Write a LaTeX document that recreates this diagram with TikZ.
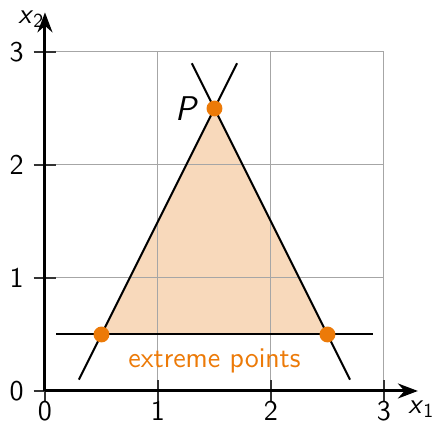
\documentclass[tikz,border=0pt]{standalone}
\usetikzlibrary{arrows.meta}
\definecolor{ptorange}{RGB}{236,122,8}
\definecolor{fillorange}{RGB}{248,217,187}
\begin{document}
\begin{tikzpicture}[x=2cm,y=2cm,font=\sffamily\Large,
  gridline/.style={gray!70,line width=0.5pt},
  axisline/.style={line width=1.5pt,-{Stealth[length=10pt,width=7.5pt]}},
  tickline/.style={line width=0.6pt,black!80},
  edgeline/.style={line width=1pt},
  vertex/.style={circle,fill=ptorange,inner sep=0pt,minimum size=8pt}]
\useasboundingbox (-0.398,-0.344) rectangle (3.425,3.46);
\fill[fillorange] (0.5,0.5) -- (2.5,0.5) -- (1.5,2.5) -- cycle;
\draw[gridline,step=2cm] (0,0) grid (3,3);
\foreach \i in {0,1,2,3}{
  \draw[tickline] (\i,-0.1) -- (\i,0.1);
  \draw[tickline] (-0.1,\i) -- (0.1,\i);
  \node (xl\i) at (\i,-0.18) {\i};
  \node (yl\i) at (-0.25,\i) {\i};
}
\coordinate (o) at (0,0);
\coordinate (xe) at (3.3,0);
\coordinate (ye) at (0,3.35);
\draw[axisline] (o) -- (xe);
\draw[axisline] (o) -- (ye);
\node (x1) at (3.33,-0.16) {\textit{x}\textsubscript{1}};
\node (x2) at (-0.12,3.29) {\textit{x}\textsubscript{2}};
\coordinate (h1) at (0.1,0.5);
\coordinate (h2) at (2.9,0.5);
\coordinate (l1) at (0.3,0.1);
\coordinate (l2) at (1.7,2.9);
\coordinate (r1) at (2.7,0.1);
\coordinate (r2) at (1.3,2.9);
\draw[edgeline] (h1) -- (h2);
\draw[edgeline] (l1) -- (l2);
\draw[edgeline] (r1) -- (r2);
\node[vertex] (A) at (0.5,0.5) {};
\node[vertex] (B) at (2.5,0.5) {};
\node[vertex] (P) at (1.5,2.5) {};
\node (Pl) at (1.26,2.5) {\LARGE\textit{P}};
\node[text=ptorange] (ext) at (1.5,0.27) {extreme points};
\end{tikzpicture}
\end{document}
